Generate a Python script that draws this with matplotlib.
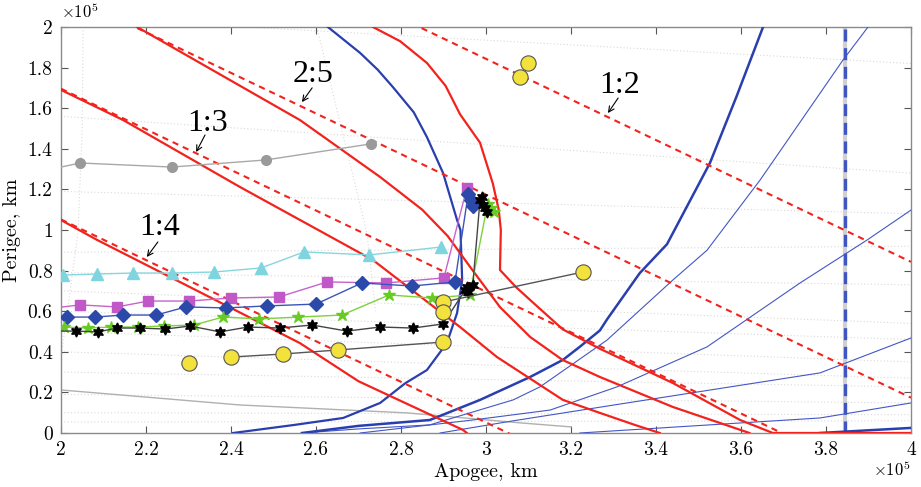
import numpy as np
import matplotlib
matplotlib.use("Agg")
import matplotlib.pyplot as plt
from matplotlib.ticker import FuncFormatter, MultipleLocator

# ---------------------------------------------------------------
# Apogee / perigee map with lunar resonance lines (units of 1e5 km)
# ---------------------------------------------------------------

# mean-motion resonances: label and ra + rp = 2a (straight reference lines)
RES_LABELS = ["1:4", "1:3", "2:5", "1:2"]
RES_SUMS = [3.052, 3.696, 4.174, 4.843]
RES_TEXT_XY = [(2.233, 1.01), (2.346, 1.527), (2.593, 1.764), (3.315, 1.714)]
RES_ARROW_TAIL = [(2.228, 0.941), (2.339, 1.468), (2.591, 1.70), (3.311, 1.65)]
RES_ARROW_HEAD = [(2.202, 0.867), (2.318, 1.384), (2.567, 1.63), (3.287, 1.576)]

# perturbed resonance curves
r14_x = [2.0, 2.085, 2.4, 2.562, 2.70, 2.946, 2.955]
r14_y = [1.049, 0.951, 0.616, 0.443, 0.255, 0.015, 0.0]
r13_x = [2.0, 2.146, 2.421, 2.734, 2.939, 3.026, 3.181, 3.268, 3.35, 3.409]
r13_y = [1.69, 1.542, 1.212, 0.852, 0.522, 0.374, 0.163, 0.099, 0.04, 0.0]
r25_x = [2.179, 2.562, 2.751, 2.85, 2.91, 2.969, 3.033, 3.104, 3.18, 3.268, 3.44, 3.62]
r25_y = [2.0, 1.542, 1.261, 1.10, 0.97, 0.80, 0.62, 0.473, 0.36, 0.276, 0.128, 0.0]
env_x = [2.734, 2.798, 2.861, 2.905, 2.939, 2.986, 3.016, 3.03, 3.035, 3.033, 3.07, 3.104,
         3.181, 3.268, 3.44, 3.598, 3.675, 4.0]
env_y = [2.0, 1.93, 1.823, 1.71, 1.57, 1.43, 1.23, 1.10, 1.0, 0.803, 0.72, 0.655,
         0.51, 0.415, 0.246, 0.064, 0.0, 0.0]

# blue boundary curves
b1_x = [2.405, 2.55, 2.664, 2.751, 2.81, 2.861, 2.908, 2.932, 2.944, 2.94,
        2.932, 2.899, 2.861, 2.83, 2.781, 2.745, 2.704, 2.628]
b1_y = [0.0, 0.04, 0.074, 0.148, 0.245, 0.31, 0.443, 0.591, 0.754, 1.0,
        1.049, 1.281, 1.458, 1.58, 1.704, 1.79, 1.872, 2.0]
b2_x = [2.567, 2.70, 2.868, 2.986, 3.104, 3.181, 3.221, 3.268, 3.285, 3.362, 3.426,
        3.527, 3.59, 3.652]
b2_y = [0.0, 0.035, 0.064, 0.163, 0.276, 0.36, 0.425, 0.505, 0.56, 0.788, 0.93,
        1.33, 1.66, 2.0]
b3_x = [3.786, 4.0]
b3_y = [0.0, 0.025]
thin_curves = [
    ([2.567, 2.70, 2.868, 3.064, 3.127, 3.285, 3.44, 3.52, 3.645, 3.84, 3.899],
     [0.0, 0.02, 0.04, 0.163, 0.227, 0.458, 0.754, 0.90, 1.246, 1.837, 2.0]),
    ([2.704, 2.969, 3.151, 3.308, 3.52, 3.739, 3.897, 4.0],
     [0.0, 0.064, 0.113, 0.227, 0.424, 0.739, 0.951, 1.098]),
    ([2.892, 3.064, 3.332, 3.786, 4.0],
     [0.0, 0.06, 0.148, 0.296, 0.468]),
    ([3.221, 3.786, 4.0],
     [0.0, 0.074, 0.148]),
]
MOON_DIST = 3.844

# grey reference line near the bottom
grey_low_x = [2.0, 2.421, 2.814, 3.08, 3.2]
grey_low_y = [0.212, 0.138, 0.099, 0.05, 0.03]

# trajectory series
grey_x = [2.0, 2.045, 2.261, 2.482, 2.729]
grey_y = [1.31, 1.33, 1.31, 1.345, 1.424]

cyan_x = [2.005, 2.085, 2.169, 2.261, 2.36, 2.471, 2.572, 2.725, 2.894]
cyan_y = [0.778, 0.783, 0.788, 0.788, 0.793, 0.813, 0.892, 0.877, 0.916]

mag_x = [2.0, 2.045, 2.132, 2.205, 2.301, 2.4, 2.513, 2.626, 2.765, 2.901, 2.955]
mag_y = [0.62, 0.631, 0.621, 0.65, 0.65, 0.665, 0.67, 0.744, 0.739, 0.764, 1.207]

dia_x = [2.014, 2.08, 2.146, 2.224, 2.294, 2.388, 2.485, 2.6, 2.708, 2.826, 2.927,
         2.958, 2.964, 2.97]
dia_y = [0.571, 0.571, 0.581, 0.581, 0.621, 0.616, 0.626, 0.635, 0.739, 0.724, 0.744,
         1.175, 1.15, 1.12]

grn_x = [2.007, 2.064, 2.118, 2.181, 2.242, 2.313, 2.381, 2.466, 2.558, 2.661, 2.772,
         2.873, 2.962, 3.004, 3.012, 3.018]
grn_y = [0.522, 0.517, 0.522, 0.522, 0.527, 0.532, 0.571, 0.562, 0.571, 0.581, 0.68,
         0.665, 0.68, 1.13, 1.11, 1.09]

blk_x = [2.0, 2.035, 2.087, 2.132, 2.186, 2.245, 2.304, 2.374, 2.44, 2.515, 2.591,
         2.673, 2.751, 2.828, 2.899, 2.951, 2.958, 2.955, 2.969,
         2.986, 2.991, 2.998, 2.993, 3.002]
blk_y = [0.502, 0.502, 0.498, 0.517, 0.517, 0.512, 0.527, 0.498, 0.522, 0.517, 0.532,
         0.502, 0.522, 0.517, 0.537, 0.704, 0.695, 0.719, 0.729,
         1.148, 1.163, 1.108, 1.123, 1.089]

yel_line_x = [2.4, 2.522, 2.652, 2.899]
yel_line_y = [0.374, 0.389, 0.409, 0.448]
yel_pair_x = [2.899, 3.228]
yel_pair_y = [0.645, 0.793]
yel_solo_x = [2.301, 2.899, 3.08, 3.099]
yel_solo_y = [0.345, 0.596, 1.754, 1.823]

# faint background curves (left value at x=2, right value at x=4)
faint_left = [2.05, 1.56, 1.19, 0.89, 0.79, 0.70, 0.60, 0.50, 0.40, 0.30, 0.19, 0.10, 0.054]
faint_right = [1.82, 1.28, 1.08, 0.92, 0.73, 0.54, 0.46, 0.35, 0.27, 0.227, 0.148, 0.09, 0.06]
faint_v = [([2.052, 2.05, 2.04, 2.0], [2.0, 1.5, 0.985, 0.37]),
           ([2.602, 2.66, 2.72, 2.74], [2.0, 1.5, 0.985, 0.6])]

RED = "#f2231d"
BLUE = "#2a3fae"
BLUE_THIN = "#4356c6"

plt.rcParams["mathtext.fontset"] = "cm"

fig = plt.figure(figsize=(9.21, 4.87), dpi=100)
ax = fig.add_axes([0.0662, 0.1109, 0.9229, 0.8337])

# faint warped grid
for yl, yr in zip(faint_left, faint_right):
    ax.plot([2.0, 4.0], [yl, yr], color="#d9d9d9", lw=0.8, ls=(0, (1, 2)), zorder=1)
for fx, fy in faint_v:
    ax.plot(fx, fy, color="#d9d9d9", lw=0.8, ls=(0, (1, 2)), zorder=1)

ax.plot(grey_low_x, grey_low_y, color="#b0b0b0", lw=1.0, zorder=2)

# Moon distance
ax.axvline(MOON_DIST, color="#d0d0d0", lw=3.0, zorder=2)
ax.axvline(MOON_DIST, color="#3f55c0", lw=2.4, ls=(0, (3.6, 2.0)), zorder=3)

# blue curves
for tx, ty in thin_curves:
    ax.plot(tx, ty, color=BLUE_THIN, lw=0.8, zorder=3)
ax.plot(b1_x, b1_y, color=BLUE, lw=1.6, zorder=4)
ax.plot(b2_x, b2_y, color=BLUE, lw=1.8, zorder=4)
ax.plot(b3_x, b3_y, color=BLUE, lw=1.8, zorder=4)

# resonance lines
xs = np.array([2.0, 4.0])
for s in RES_SUMS:
    ax.plot(xs, s - xs, color=RED, lw=1.5, ls=(0, (3, 2.4)), zorder=5)
for cx, cy in [(r14_x, r14_y), (r13_x, r13_y), (r25_x, r25_y), (env_x, env_y)]:
    ax.plot(cx, cy, color=RED, lw=1.6, zorder=5)

for lab, txy, tail, head in zip(RES_LABELS, RES_TEXT_XY, RES_ARROW_TAIL, RES_ARROW_HEAD):
    ax.text(txy[0], txy[1], lab, fontsize=23, family="Liberation Serif",
            ha="center", va="center", zorder=9)
    ax.annotate("", xy=head, xytext=tail,
                arrowprops=dict(arrowstyle="->", color="black", lw=0.8,
                                shrinkA=0, shrinkB=0), zorder=9)

# trajectories
ax.plot(grey_x, grey_y, color="#a8a8a8", lw=1.0, marker="o", markersize=7,
        markerfacecolor="#9a9a9a", markeredgecolor="#9a9a9a",
        markevery=list(range(1, len(grey_x))), zorder=6)
ax.plot(cyan_x, cyan_y, color="#86d6de", lw=1.0, marker="^", markersize=9,
        markerfacecolor="#7fd5df", markeredgecolor="#7fd5df", zorder=6)
ax.plot(mag_x, mag_y, color="#c763cc", lw=1.0, marker="s", markersize=6.5,
        markerfacecolor="#c058c8", markeredgecolor="#c058c8",
        markevery=list(range(1, len(mag_x))), zorder=6)
ax.plot(dia_x, dia_y, color="#3a55b8", lw=1.0, marker="D", markersize=7,
        markerfacecolor="#2a49a8", markeredgecolor="#2a49a8", zorder=6)
ax.plot(grn_x, grn_y, color="#7ed23a", lw=1.0, marker="*", markersize=9,
        markerfacecolor="#66cc22", markeredgecolor="#66cc22", zorder=6)
ax.plot(blk_x, blk_y, color="#444444", lw=1.0, marker=(6, 1, 0), markersize=8,
        markerfacecolor="black", markeredgecolor="black",
        markevery=list(range(1, len(blk_x))), zorder=7)

ycirc = dict(marker="o", markersize=11, markerfacecolor="#f3e13c",
             markeredgecolor="#555555", markeredgewidth=0.8)
ax.plot(yel_line_x, yel_line_y, color="#555555", lw=1.0, zorder=8, **ycirc)
ax.plot(yel_pair_x, yel_pair_y, color="#555555", lw=1.0, zorder=8, **ycirc)
ax.plot(yel_solo_x, yel_solo_y, ls="none", zorder=8, **ycirc)

# axes styling
ax.set_xlim(2.0, 4.0)
ax.set_ylim(0.0, 2.0)
ax.xaxis.set_major_locator(MultipleLocator(0.2))
ax.yaxis.set_major_locator(MultipleLocator(0.2))
fmt = FuncFormatter(lambda v, p: f"{v:g}")
ax.xaxis.set_major_formatter(fmt)
ax.yaxis.set_major_formatter(fmt)
ax.tick_params(direction="in", top=True, right=True, length=5, width=0.8,
               color="#555555", labelsize=14, pad=6)
for lbl in ax.get_xticklabels() + ax.get_yticklabels():
    lbl.set_family("cmr10")
for sp in ax.spines.values():
    sp.set_color("#8a8a8a")
    sp.set_linewidth(1.0)

ax.set_xlabel("Apogee, km", family="cmr10", fontsize=14.5, labelpad=3)
ax.set_ylabel("Perigee, km", family="cmr10", fontsize=14.5, labelpad=5)

fig.text(0.066, 0.975, r"$\times10^5$", fontsize=12, ha="left", va="center")
fig.text(0.989, 0.035, r"$\times10^5$", fontsize=12, ha="right", va="center")

fig.savefig("out.png", dpi=100)
